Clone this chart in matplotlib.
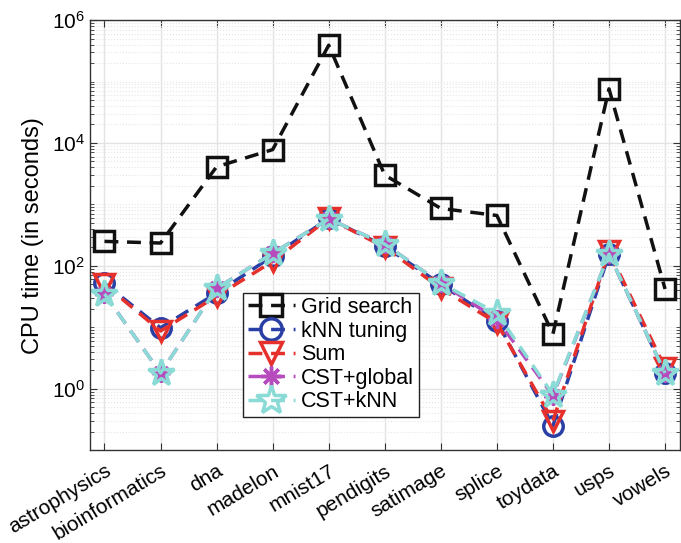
import numpy as np
import matplotlib
matplotlib.use("Agg")
import matplotlib.pyplot as plt
from matplotlib.ticker import LogLocator, NullFormatter

datasets = ["astrophysics", "bioinformatics", "dna", "madelon", "mnist17", "pendigits",
            "satimage", "splice", "toydata", "usps", "vowels"]
grid_search = [250, 235, 4100, 7800, 390000, 3000, 860, 660, 7.8, 76000, 42]
knn_tuning = [52, 9.8, 36, 144, 590, 208, 50, 12.6, 0.25, 155, 1.8]
sum_time = [50, 8.7, 32, 118, 590, 200, 43, 11.7, 0.30, 172, 2.2]
cst_global = [35, 1.8, 43, 160, 580, 225, 52, 13.6, 0.77, 155, 1.8]
cst_knn = [35, 1.8, 43, 160, 580, 225, 52, 17, 0.80, 155, 1.8]

plt.rcParams["font.family"] = ["Liberation Sans", "DejaVu Sans"]

fig = plt.figure(figsize=(6.81, 5.43), dpi=100)
ax = fig.add_axes([0.132, 0.171, 0.866, 0.792])
x = np.arange(1, len(datasets) + 1)

lw = 2.5
ax.plot(x, grid_search, "--", color="#111111", lw=lw, marker="s", ms=14,
        mfc="none", mew=2.5, label="Grid search", dashes=(4, 2.5))
ax.plot(x, knn_tuning, "--", color="#2a3fa6", lw=lw, marker="o", ms=14,
        mfc="none", mew=2.5, label="kNN tuning", dashes=(4, 2.5))
ax.plot(x, sum_time, "--", color="#e5302b", lw=lw, marker="v", ms=15,
        mfc="none", mew=2.5, label="Sum", dashes=(4, 2.5))
ax.plot(x, cst_global, "--", color="#b64bbd", lw=lw, marker=(8, 2, 0), ms=13,
        mew=2.5, label="CST+global", dashes=(4, 2.5))
ax.plot(x, cst_knn, "--", color="#8adbd6", lw=lw, marker="*", ms=20,
        mfc="none", mew=2.5, label="CST+kNN", dashes=(4, 2.5))

ax.set_yscale("log")
ax.set_ylim(1e-1, 1e6)
ax.set_xlim(0.74, 11.26)
ax.set_yticks([1e0, 1e2, 1e4, 1e6])
ax.yaxis.set_minor_locator(LogLocator(base=10, subs=np.arange(1, 10), numticks=100))
ax.yaxis.set_minor_formatter(NullFormatter())
ax.set_xticks(x)
ax.set_xticklabels(datasets, rotation=31, ha="right", va="top", rotation_mode="anchor")

ax.grid(True, which="major", color="#e3e3e3", lw=1.0)
ax.grid(True, which="minor", axis="y", color="#e6e6e6", lw=0.8, ls=":")
ax.set_axisbelow(True)
ax.tick_params(which="both", direction="in", top=True, right=True, labelsize=15,
               color="#333333")
ax.tick_params(axis="x", pad=8)
ax.tick_params(which="major", length=5)
ax.tick_params(which="minor", length=3)
for s in ax.spines.values():
    s.set_color("#333333")
    s.set_linewidth(1.0)

ax.set_ylabel("CPU time (in seconds)", fontsize=17, labelpad=6)

leg = ax.legend(loc="lower left", bbox_to_anchor=(0.260, 0.078), fontsize=15.5,
                fancybox=False, framealpha=1, edgecolor="#222222",
                handlelength=2.2, borderpad=0.2, labelspacing=0.12,
                handletextpad=0.3, borderaxespad=0, markerscale=1.1)
leg.get_frame().set_linewidth(1.0)

fig.savefig("out.png", dpi=100)
